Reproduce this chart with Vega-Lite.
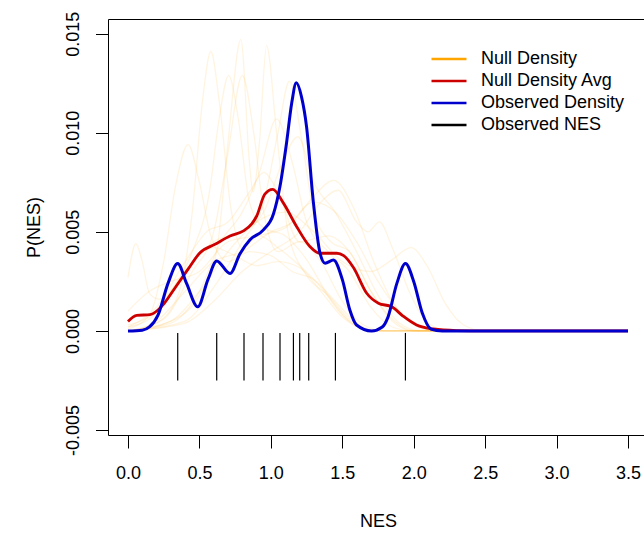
{
  "$schema": "https://vega.github.io/schema/vega-lite/v6.json",
  "width": 536,
  "height": 416,
  "autosize": {"type": "none"},
  "padding": {"left": 108, "top": 19, "right": 0, "bottom": 99},
  "config": {
    "view": {"stroke": null},
    "font": "Liberation Sans",
    "axis": {"domainColor": "#000000", "tickColor": "#000000", "labelColor": "#000000", "titleColor": "#000000", "grid": false, "labelFontSize": 18, "titleFontSize": 18, "titleFontWeight": "normal", "domainWidth": 1, "tickWidth": 1}
  },
  "datasets": {
    "nulls": [
      {"c":1,"x":0,"y":0.0027},{"c":1,"x":0.055,"y":0.0044},{"c":1,"x":0.1,"y":0.0035},{"c":1,"x":0.15,"y":0.0019},{"c":1,"x":0.22,"y":0.0016},{"c":1,"x":0.32,"y":0.0022},{"c":1,"x":0.45,"y":0.0035},{"c":1,"x":0.6,"y":0.0042},{"c":1,"x":0.75,"y":0.0038},{"c":1,"x":0.9,"y":0.0033},{"c":1,"x":1.05,"y":0.0035},{"c":1,"x":1.2,"y":0.0032},{"c":1,"x":1.35,"y":0.002},{"c":1,"x":1.5,"y":0.0007},{"c":1,"x":1.65,"y":0.0001},{"c":1,"x":1.8,"y":0},{"c":1,"x":3.5,"y":0},
      {"c":2,"x":0,"y":0.0001},{"c":2,"x":0.15,"y":0.0008},{"c":2,"x":0.25,"y":0.0035},{"c":2,"x":0.33,"y":0.0072},{"c":2,"x":0.42,"y":0.0094},{"c":2,"x":0.5,"y":0.0075},{"c":2,"x":0.58,"y":0.0048},{"c":2,"x":0.7,"y":0.0035},{"c":2,"x":0.85,"y":0.004},{"c":2,"x":1.0,"y":0.0038},{"c":2,"x":1.15,"y":0.003},{"c":2,"x":1.3,"y":0.0026},{"c":2,"x":1.45,"y":0.0015},{"c":2,"x":1.6,"y":0.0004},{"c":2,"x":1.75,"y":0},{"c":2,"x":3.5,"y":0},
      {"c":3,"x":0,"y":0},{"c":3,"x":0.2,"y":0.0004},{"c":3,"x":0.35,"y":0.0018},{"c":3,"x":0.45,"y":0.006},{"c":3,"x":0.52,"y":0.0115},{"c":3,"x":0.58,"y":0.0141},{"c":3,"x":0.64,"y":0.0115},{"c":3,"x":0.72,"y":0.0062},{"c":3,"x":0.8,"y":0.0042},{"c":3,"x":0.92,"y":0.0048},{"c":3,"x":1.05,"y":0.0042},{"c":3,"x":1.2,"y":0.0033},{"c":3,"x":1.35,"y":0.0022},{"c":3,"x":1.5,"y":0.0008},{"c":3,"x":1.65,"y":0.0001},{"c":3,"x":1.8,"y":0},{"c":3,"x":3.5,"y":0},
      {"c":4,"x":0,"y":0.0002},{"c":4,"x":0.15,"y":0.0006},{"c":4,"x":0.3,"y":0.002},{"c":4,"x":0.45,"y":0.004},{"c":4,"x":0.57,"y":0.007},{"c":4,"x":0.64,"y":0.0108},{"c":4,"x":0.705,"y":0.0129},{"c":4,"x":0.77,"y":0.0108},{"c":4,"x":0.85,"y":0.0065},{"c":4,"x":0.95,"y":0.0052},{"c":4,"x":1.1,"y":0.0048},{"c":4,"x":1.25,"y":0.0036},{"c":4,"x":1.4,"y":0.0018},{"c":4,"x":1.55,"y":0.0005},{"c":4,"x":1.7,"y":0},{"c":4,"x":3.5,"y":0},
      {"c":5,"x":0,"y":0},{"c":5,"x":0.3,"y":0.0005},{"c":5,"x":0.5,"y":0.0018},{"c":5,"x":0.62,"y":0.004},{"c":5,"x":0.7,"y":0.0095},{"c":5,"x":0.79,"y":0.0147},{"c":5,"x":0.85,"y":0.0085},{"c":5,"x":0.875,"y":0.007},{"c":5,"x":0.92,"y":0.0095},{"c":5,"x":0.97,"y":0.0144},{"c":5,"x":1.04,"y":0.01},{"c":5,"x":1.12,"y":0.005},{"c":5,"x":1.25,"y":0.0028},{"c":5,"x":1.4,"y":0.0018},{"c":5,"x":1.55,"y":0.0006},{"c":5,"x":1.7,"y":0},{"c":5,"x":3.5,"y":0},
      {"c":6,"x":0,"y":0},{"c":6,"x":0.25,"y":0.0006},{"c":6,"x":0.45,"y":0.003},{"c":6,"x":0.6,"y":0.005},{"c":6,"x":0.7,"y":0.009},{"c":6,"x":0.8,"y":0.0129},{"c":6,"x":0.88,"y":0.01},{"c":6,"x":0.95,"y":0.006},{"c":6,"x":1.05,"y":0.004},{"c":6,"x":1.2,"y":0.0045},{"c":6,"x":1.35,"y":0.0035},{"c":6,"x":1.5,"y":0.0015},{"c":6,"x":1.65,"y":0.0003},{"c":6,"x":1.8,"y":0},{"c":6,"x":3.5,"y":0},
      {"c":7,"x":0,"y":0},{"c":7,"x":0.3,"y":0.0004},{"c":7,"x":0.5,"y":0.002},{"c":7,"x":0.65,"y":0.0045},{"c":7,"x":0.8,"y":0.006},{"c":7,"x":0.92,"y":0.008},{"c":7,"x":1.04,"y":0.0107},{"c":7,"x":1.15,"y":0.0085},{"c":7,"x":1.25,"y":0.0055},{"c":7,"x":1.4,"y":0.004},{"c":7,"x":1.55,"y":0.003},{"c":7,"x":1.7,"y":0.0012},{"c":7,"x":1.85,"y":0.0002},{"c":7,"x":2.0,"y":0},{"c":7,"x":3.5,"y":0},
      {"c":8,"x":0,"y":0},{"c":8,"x":0.4,"y":0.0005},{"c":8,"x":0.6,"y":0.0022},{"c":8,"x":0.8,"y":0.0045},{"c":8,"x":0.95,"y":0.0065},{"c":8,"x":1.05,"y":0.01},{"c":8,"x":1.13,"y":0.0126},{"c":8,"x":1.22,"y":0.0095},{"c":8,"x":1.3,"y":0.006},{"c":8,"x":1.42,"y":0.0045},{"c":8,"x":1.55,"y":0.004},{"c":8,"x":1.7,"y":0.002},{"c":8,"x":1.85,"y":0.0005},{"c":8,"x":2.0,"y":0},{"c":8,"x":3.5,"y":0},
      {"c":9,"x":0,"y":0.0003},{"c":9,"x":0.2,"y":0.001},{"c":9,"x":0.4,"y":0.003},{"c":9,"x":0.6,"y":0.0045},{"c":9,"x":0.8,"y":0.005},{"c":9,"x":0.95,"y":0.006},{"c":9,"x":1.08,"y":0.0085},{"c":9,"x":1.19,"y":0.0098},{"c":9,"x":1.3,"y":0.0075},{"c":9,"x":1.45,"y":0.006},{"c":9,"x":1.6,"y":0.004},{"c":9,"x":1.75,"y":0.0018},{"c":9,"x":1.9,"y":0.0004},{"c":9,"x":2.05,"y":0},{"c":9,"x":3.5,"y":0},
      {"c":10,"x":0,"y":0},{"c":10,"x":0.2,"y":0.0005},{"c":10,"x":0.4,"y":0.002},{"c":10,"x":0.6,"y":0.0035},{"c":10,"x":0.8,"y":0.004},{"c":10,"x":1.0,"y":0.005},{"c":10,"x":1.15,"y":0.0055},{"c":10,"x":1.3,"y":0.0068},{"c":10,"x":1.44,"y":0.0076},{"c":10,"x":1.58,"y":0.0062},{"c":10,"x":1.72,"y":0.0035},{"c":10,"x":1.85,"y":0.0015},{"c":10,"x":2.0,"y":0.0003},{"c":10,"x":2.15,"y":0},{"c":10,"x":3.5,"y":0},
      {"c":11,"x":0,"y":0},{"c":11,"x":0.4,"y":0.0004},{"c":11,"x":0.6,"y":0.0015},{"c":11,"x":0.8,"y":0.003},{"c":11,"x":1.0,"y":0.004},{"c":11,"x":1.2,"y":0.005},{"c":11,"x":1.35,"y":0.0065},{"c":11,"x":1.47,"y":0.0071},{"c":11,"x":1.6,"y":0.0055},{"c":11,"x":1.68,"y":0.005},{"c":11,"x":1.76,"y":0.0055},{"c":11,"x":1.85,"y":0.0042},{"c":11,"x":1.98,"y":0.0018},{"c":11,"x":2.1,"y":0.0004},{"c":11,"x":2.25,"y":0},{"c":11,"x":3.5,"y":0},
      {"c":12,"x":0,"y":0},{"c":12,"x":0.3,"y":0.0005},{"c":12,"x":0.5,"y":0.002},{"c":12,"x":0.7,"y":0.004},{"c":12,"x":0.9,"y":0.0055},{"c":12,"x":1.1,"y":0.006},{"c":12,"x":1.3,"y":0.005},{"c":12,"x":1.5,"y":0.0035},{"c":12,"x":1.7,"y":0.003},{"c":12,"x":1.85,"y":0.0036},{"c":12,"x":1.98,"y":0.0042},{"c":12,"x":2.1,"y":0.0032},{"c":12,"x":2.22,"y":0.0014},{"c":12,"x":2.35,"y":0.0003},{"c":12,"x":2.5,"y":0},{"c":12,"x":3.5,"y":0},
      {"c":13,"x":0,"y":0.001},{"c":13,"x":0.15,"y":0.002},{"c":13,"x":0.3,"y":0.0025},{"c":13,"x":0.5,"y":0.003},{"c":13,"x":0.7,"y":0.0045},{"c":13,"x":0.9,"y":0.0048},{"c":13,"x":1.1,"y":0.0052},{"c":13,"x":1.3,"y":0.0065},{"c":13,"x":1.45,"y":0.006},{"c":13,"x":1.6,"y":0.0045},{"c":13,"x":1.75,"y":0.0025},{"c":13,"x":1.9,"y":0.001},{"c":13,"x":2.05,"y":0.0002},{"c":13,"x":2.2,"y":0},{"c":13,"x":3.5,"y":0},
      {"c":14,"x":0,"y":0.0002},{"c":14,"x":0.2,"y":0.0012},{"c":14,"x":0.4,"y":0.0035},{"c":14,"x":0.55,"y":0.005},{"c":14,"x":0.7,"y":0.0055},{"c":14,"x":0.85,"y":0.007},{"c":14,"x":0.95,"y":0.008},{"c":14,"x":1.05,"y":0.007},{"c":14,"x":1.2,"y":0.0045},{"c":14,"x":1.4,"y":0.0048},{"c":14,"x":1.55,"y":0.004},{"c":14,"x":1.7,"y":0.002},{"c":14,"x":1.85,"y":0.0006},{"c":14,"x":2.0,"y":0},{"c":14,"x":3.5,"y":0}
    ],
    "avg": [
      {"x":0,"y":0.00048},{"x":0.061,"y":0.00079},{"x":0.154,"y":0.00082},{"x":0.236,"y":0.00124},{"x":0.329,"y":0.00217},{"x":0.422,"y":0.00313},{"x":0.504,"y":0.00395},{"x":0.609,"y":0.00437},{"x":0.714,"y":0.00479},{"x":0.808,"y":0.00505},{"x":0.866,"y":0.0054},{"x":0.901,"y":0.0058},{"x":0.958,"y":0.0069},{"x":1.013,"y":0.00714},{"x":1.088,"y":0.00645},{"x":1.18,"y":0.00527},{"x":1.273,"y":0.00426},{"x":1.343,"y":0.00392},{"x":1.461,"y":0.00392},{"x":1.51,"y":0.0038},{"x":1.578,"y":0.0032},{"x":1.671,"y":0.0019},{"x":1.753,"y":0.0014},{"x":1.846,"y":0.00122},{"x":1.925,"y":0.00075},{"x":2.02,"y":0.0003},{"x":2.137,"y":0.0001},{"x":2.3,"y":0.00002},{"x":2.5,"y":0},{"x":3.5,"y":0}
    ],
    "obs": [
      {"x":0,"y":0},{"x":0.1,"y":0.00004},{"x":0.15,"y":0.0002},{"x":0.21,"y":0.0008},{"x":0.28,"y":0.0024},{"x":0.348,"y":0.0034},{"x":0.41,"y":0.0024},{"x":0.488,"y":0.00122},{"x":0.56,"y":0.0026},{"x":0.621,"y":0.00353},{"x":0.714,"y":0.0029},{"x":0.784,"y":0.0039},{"x":0.854,"y":0.0046},{"x":0.948,"y":0.0051},{"x":1.018,"y":0.0059},{"x":1.064,"y":0.0073},{"x":1.11,"y":0.0095},{"x":1.146,"y":0.0115},{"x":1.178,"y":0.01252},{"x":1.215,"y":0.0118},{"x":1.25,"y":0.0103},{"x":1.296,"y":0.0066},{"x":1.345,"y":0.0039},{"x":1.38,"y":0.00342},{"x":1.438,"y":0.00358},{"x":1.5,"y":0.0026},{"x":1.553,"y":0.00106},{"x":1.6,"y":0.0003},{"x":1.705,"y":0},{"x":1.78,"y":0.0002},{"x":1.82,"y":0.0007},{"x":1.882,"y":0.0024},{"x":1.942,"y":0.0034},{"x":2.0,"y":0.0025},{"x":2.06,"y":0.0009},{"x":2.12,"y":0.0001},{"x":2.2,"y":0},{"x":3.5,"y":0}
    ],
    "rug": [
      {"nes":0.348},{"nes":0.621},{"nes":0.812},{"nes":0.945},{"nes":1.064},{"nes":1.158},{"nes":1.202},{"nes":1.265},{"nes":1.452},{"nes":1.942}
    ]
  },
  "resolve": {"axis": {"x": "independent"}},
  "layer": [
    {
      "data": {"name": "nulls"},
      "mark": {"type": "line", "interpolate": "monotone", "strokeWidth": 1.3, "opacity": 0.12},
      "encoding": {
        "x": {"field": "x", "type": "quantitative", "scale": {"domain": [-0.14, 3.612], "nice": false, "zero": false},
          "axis": {"orient": "bottom", "values": [0, 0.5, 1, 1.5, 2, 2.5, 3, 3.5], "format": ".1f", "tickSize": 13, "labelPadding": 16, "labelFlush": false, "labelOverlap": false, "title": "NES", "titleX": 270, "titleY": 86, "titleBaseline": "middle", "titleAlign": "center"}},
        "y": {"field": "y", "type": "quantitative", "scale": {"domain": [-0.00525, 0.01574], "nice": false, "zero": false},
          "axis": {"values": [-0.005, 0, 0.005, 0.01, 0.015], "labelExpr": "(datum.value < 0 ? '-' : '') + format(abs(datum.value), '.3f')", "labelAngle": 270, "labelAlign": "center", "labelBaseline": "alphabetic", "labelPadding": 17, "tickSize": 12.5, "labelFlush": false, "labelOverlap": false, "title": "P(NES)", "titleX": -69, "titleBaseline": "alphabetic"}},
        "color": {"datum": "Null Density", "scale": {"domain": ["Null Density", "Null Density Avg", "Observed Density", "Observed NES"], "range": ["#FFA500", "#CD0000", "#0000CD", "#000000"]},
          "legend": {"title": null, "orient": "none", "legendX": 332, "legendY": 31, "padding": 0, "symbolType": "M-3,0H3", "symbolSize": 136, "symbolStrokeWidth": 2.5, "symbolOpacity": 1, "labelFontSize": 18, "labelColor": "#000000", "labelOffset": 23, "labelLimit": 300, "rowPadding": 4}},
        "detail": {"field": "c"}
      }
    },
    {
      "data": {"name": "avg"},
      "mark": {"type": "line", "interpolate": "monotone", "strokeWidth": 2.8},
      "encoding": {
        "x": {"field": "x", "type": "quantitative", "axis": null},
        "y": {"field": "y", "type": "quantitative"},
        "color": {"datum": "Null Density Avg"}
      }
    },
    {
      "data": {"name": "obs"},
      "mark": {"type": "line", "interpolate": "monotone", "strokeWidth": 3},
      "encoding": {
        "x": {"field": "x", "type": "quantitative", "axis": {"orient": "top", "labels": false, "ticks": false, "title": null, "domain": true}},
        "y": {"field": "y", "type": "quantitative"},
        "color": {"datum": "Observed Density"}
      }
    },
    {
      "data": {"name": "rug"},
      "mark": {"type": "rule", "strokeWidth": 1.2},
      "encoding": {
        "x": {"field": "nes", "type": "quantitative", "axis": null},
        "y": {"datum": -0.0001},
        "y2": {"datum": -0.0025},
        "color": {"datum": "Observed NES"}
      }
    }
  ]
}
